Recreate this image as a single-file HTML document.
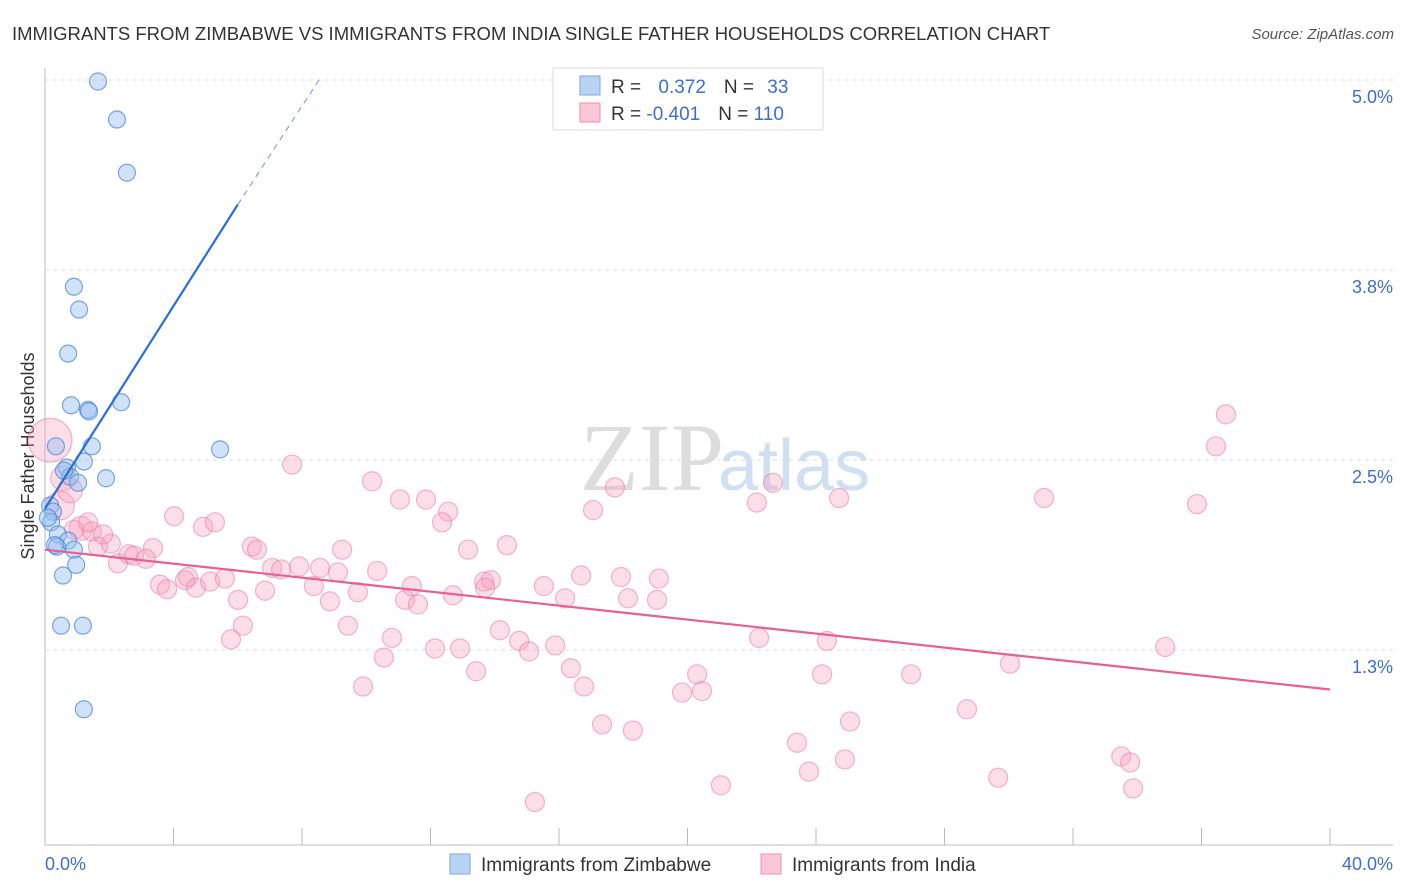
<!DOCTYPE html>
<html><head><meta charset="utf-8"><style>
body{margin:0;background:#fff;font-family:"Liberation Sans",sans-serif;}
svg{display:block}
</style></head><body>
<svg id="chart" width="1406" height="892">
<text x="12" y="40" font-size="18.5" fill="#333">IMMIGRANTS FROM ZIMBABWE VS IMMIGRANTS FROM INDIA SINGLE FATHER HOUSEHOLDS CORRELATION CHART</text>
<text x="1394" y="39" font-size="15" fill="#555" font-style="italic" text-anchor="end">Source: ZipAtlas.com</text>
<text x="580" y="490" font-size="96" fill="#ddd" font-family="Liberation Serif,serif">ZIP</text>
<text x="718" y="490" font-size="72" fill="#cfe0f3">atlas</text>
<text transform="translate(34,456) rotate(-90)" font-size="18" fill="#333" text-anchor="middle">Single Father Households</text>
<g id="grid"></g><g id="axes"></g><g id="pts"></g><g id="lines"></g>
<g>
<rect x="553" y="68" width="270" height="62" fill="#fff" stroke="#ddd"/>
<rect x="580" y="76" width="20" height="19" fill="#b9d3f5" stroke="#7aa7e6"/>
<rect x="580" y="103" width="20" height="19" fill="#fbc6d6" stroke="#f08fae"/>
<text x="611" y="93" font-size="19" fill="#333">R = <tspan fill="#3a6fd3" dx="12">0.372</tspan><tspan dx="18">N = </tspan><tspan fill="#3a6fd3" dx="8">33</tspan></text>
<text x="611" y="120" font-size="19" fill="#333">R = <tspan fill="#3a6fd3">-0.401</tspan><tspan dx="18">N = </tspan><tspan fill="#3a6fd3">110</tspan></text>
</g>
<g>
<rect x="450" y="854" width="20" height="20" fill="#b9d3f5" stroke="#7aa7e6"/>
<text x="481" y="871" font-size="19" fill="#333">Immigrants from Zimbabwe</text>
<rect x="761" y="854" width="20" height="20" fill="#fbc6d6" stroke="#f08fae"/>
<text x="792" y="871" font-size="19" fill="#333">Immigrants from India</text>
</g>
</svg>
<script>
const xTicks=[0,4,8,12,16,20,24,28,32,36,40];
const yTicks=[5.0,3.75,2.5,1.25];
const yTickLabels=["5.0%","3.8%","2.5%","1.3%"];
const xEndLabels=["0.0%","40.0%"];
const zimX=[1.65,2.24,2.55,0.90,1.06,0.72,0.81,1.34,1.37,2.37,0.34,1.46,5.45,0.68,1.21,0.78,1.03,1.90,0.16,0.25,0.19,0.40,0.72,0.37,0.90,0.97,0.56,0.50,1.18,1.21,0.09,0.31,0.59];
const zimY=[4.99,4.74,4.39,3.64,3.49,3.20,2.86,2.83,2.82,2.88,2.59,2.59,2.57,2.45,2.49,2.39,2.35,2.38,2.20,2.16,2.09,2.01,1.97,1.93,1.91,1.81,1.74,1.41,1.41,0.86,2.12,1.94,2.43];
const indX=[7.69,10.18,11.05,11.86,12.55,12.36,13.17,14.38,17.74,17.06,22.16,22.66,24.72,31.10,35.86,36.45,36.76,4.02,4.92,5.29,6.44,6.60,9.25,3.36,3.58,3.80,4.36,4.45,4.70,5.14,5.60,6.01,6.16,5.79,6.85,7.07,7.35,7.91,8.56,8.37,8.87,9.12,9.43,9.74,10.34,9.90,10.55,10.80,11.21,11.42,11.61,12.14,12.70,12.92,13.42,13.67,13.88,13.70,14.16,14.76,15.07,15.53,15.88,16.19,16.37,16.69,16.78,17.34,17.93,18.15,18.30,19.11,19.05,19.83,20.30,20.45,21.04,22.23,23.41,23.78,24.19,24.34,24.90,25.06,26.96,28.70,29.67,30.04,33.50,33.78,33.87,34.87,15.25,0.16,0.47,0.56,0.78,1.12,1.46,1.65,2.05,2.27,2.61,2.77,3.14,1.81,0.90,1.34];
const indY=[2.47,2.36,2.24,2.24,2.16,2.09,1.91,1.94,2.32,2.17,2.22,2.35,2.25,2.25,2.21,2.59,2.80,2.13,2.06,2.09,1.93,1.91,1.91,1.92,1.68,1.65,1.71,1.73,1.66,1.70,1.72,1.58,1.41,1.32,1.64,1.79,1.78,1.80,1.79,1.67,1.57,1.76,1.41,1.63,1.77,1.01,1.20,1.33,1.58,1.67,1.55,1.26,1.61,1.26,1.11,1.70,1.71,1.66,1.38,1.31,1.24,1.67,1.28,1.59,1.13,1.74,1.01,0.76,1.73,1.59,0.72,1.72,1.58,0.97,1.09,0.98,0.36,1.33,0.64,0.45,1.09,1.31,0.53,0.78,1.09,0.86,0.41,1.16,0.55,0.51,0.34,1.27,0.25,2.63,2.20,2.38,2.30,2.05,2.03,1.93,1.95,1.82,1.88,1.87,1.85,2.01,2.04,2.09];
const indWeight=[{i:93,w:2.3},{i:94,w:1.5},{i:95,w:1.3},{i:96,w:1.3},{i:97,w:1.25}];
const zimTrend=[[0,2.18],[6.0,4.18],[8.56,5.01]];
const indTrend=[[0,1.91],[40,0.99]];
const X=v=>45+v/40*1285, Y=v=>80+(5-v)*152;
const NS="http://www.w3.org/2000/svg";
function mk(t,a,p){const e=document.createElementNS(NS,t);for(const k in a)e.setAttribute(k,a[k]);p.appendChild(e);return e;}
const g=document.getElementById('grid'),ax=document.getElementById('axes'),pts=document.getElementById('pts'),ln=document.getElementById('lines');
yTicks.forEach((v,i)=>{
 const l=mk('line',{x1:45,x2:1393,y1:Y(v),y2:Y(v),stroke:'#ddd','stroke-dasharray':'4,4'},g);
 
 
 const t=mk('text',{x:1393,y:Y(v)+23,'font-size':18,fill:'#3a6fd3','text-anchor':'end'},g);
 
 
 t.textContent=yTickLabels[i];
});
const xa=mk('line',{x1:45,x2:1393,y1:845,y2:845,stroke:'#bbb'},ax);


const ya=mk('line',{x1:45,x2:45,y1:68,y2:845,stroke:'#bbb'},ax);


xTicks.forEach(v=>{const t=mk('line',{x1:X(v),x2:X(v),y1:828,y2:845,stroke:'#bbb'},ax);
 
 });
[[0,'start',45],[40,'end',1393]].forEach((d,i)=>{const t=mk('text',{x:d[2],y:870,'font-size':18,fill:'#3a6fd3','text-anchor':d[1]},ax);
 
 
 t.textContent=xEndLabels[i];});
indX.forEach((v,i)=>{let w=1;indWeight.forEach(o=>{if(o.i===i)w=o.w;});
 const c=mk('circle',{cx:X(v),cy:Y(indY[i]),r:9.5*w,fill:'rgba(246,160,190,0.35)',stroke:'rgba(236,120,160,0.55)','stroke-width':1.2},pts);
 
 });
zimX.forEach((v,i)=>{const c=mk('circle',{cx:X(v),cy:Y(zimY[i]),r:8.5,fill:'rgba(150,190,240,0.45)',stroke:'rgba(70,130,220,0.7)','stroke-width':1.2},pts);
 
 });
const b1=mk('line',{x1:X(zimTrend[0][0]),y1:Y(zimTrend[0][1]),x2:X(zimTrend[1][0]),y2:Y(zimTrend[1][1]),stroke:'#2a6fd6','stroke-width':2.2},ln);


const b2=mk('line',{x1:X(zimTrend[1][0]),y1:Y(zimTrend[1][1]),x2:X(zimTrend[2][0]),y2:Y(zimTrend[2][1]),stroke:'#7aa7e6','stroke-width':1.2,'stroke-dasharray':'6,5'},ln);


const p1=mk('line',{x1:X(indTrend[0][0]),y1:Y(indTrend[0][1]),x2:X(indTrend[1][0]),y2:Y(indTrend[1][1]),stroke:'#e8608f','stroke-width':2.2},ln);


</script>
</body></html>
